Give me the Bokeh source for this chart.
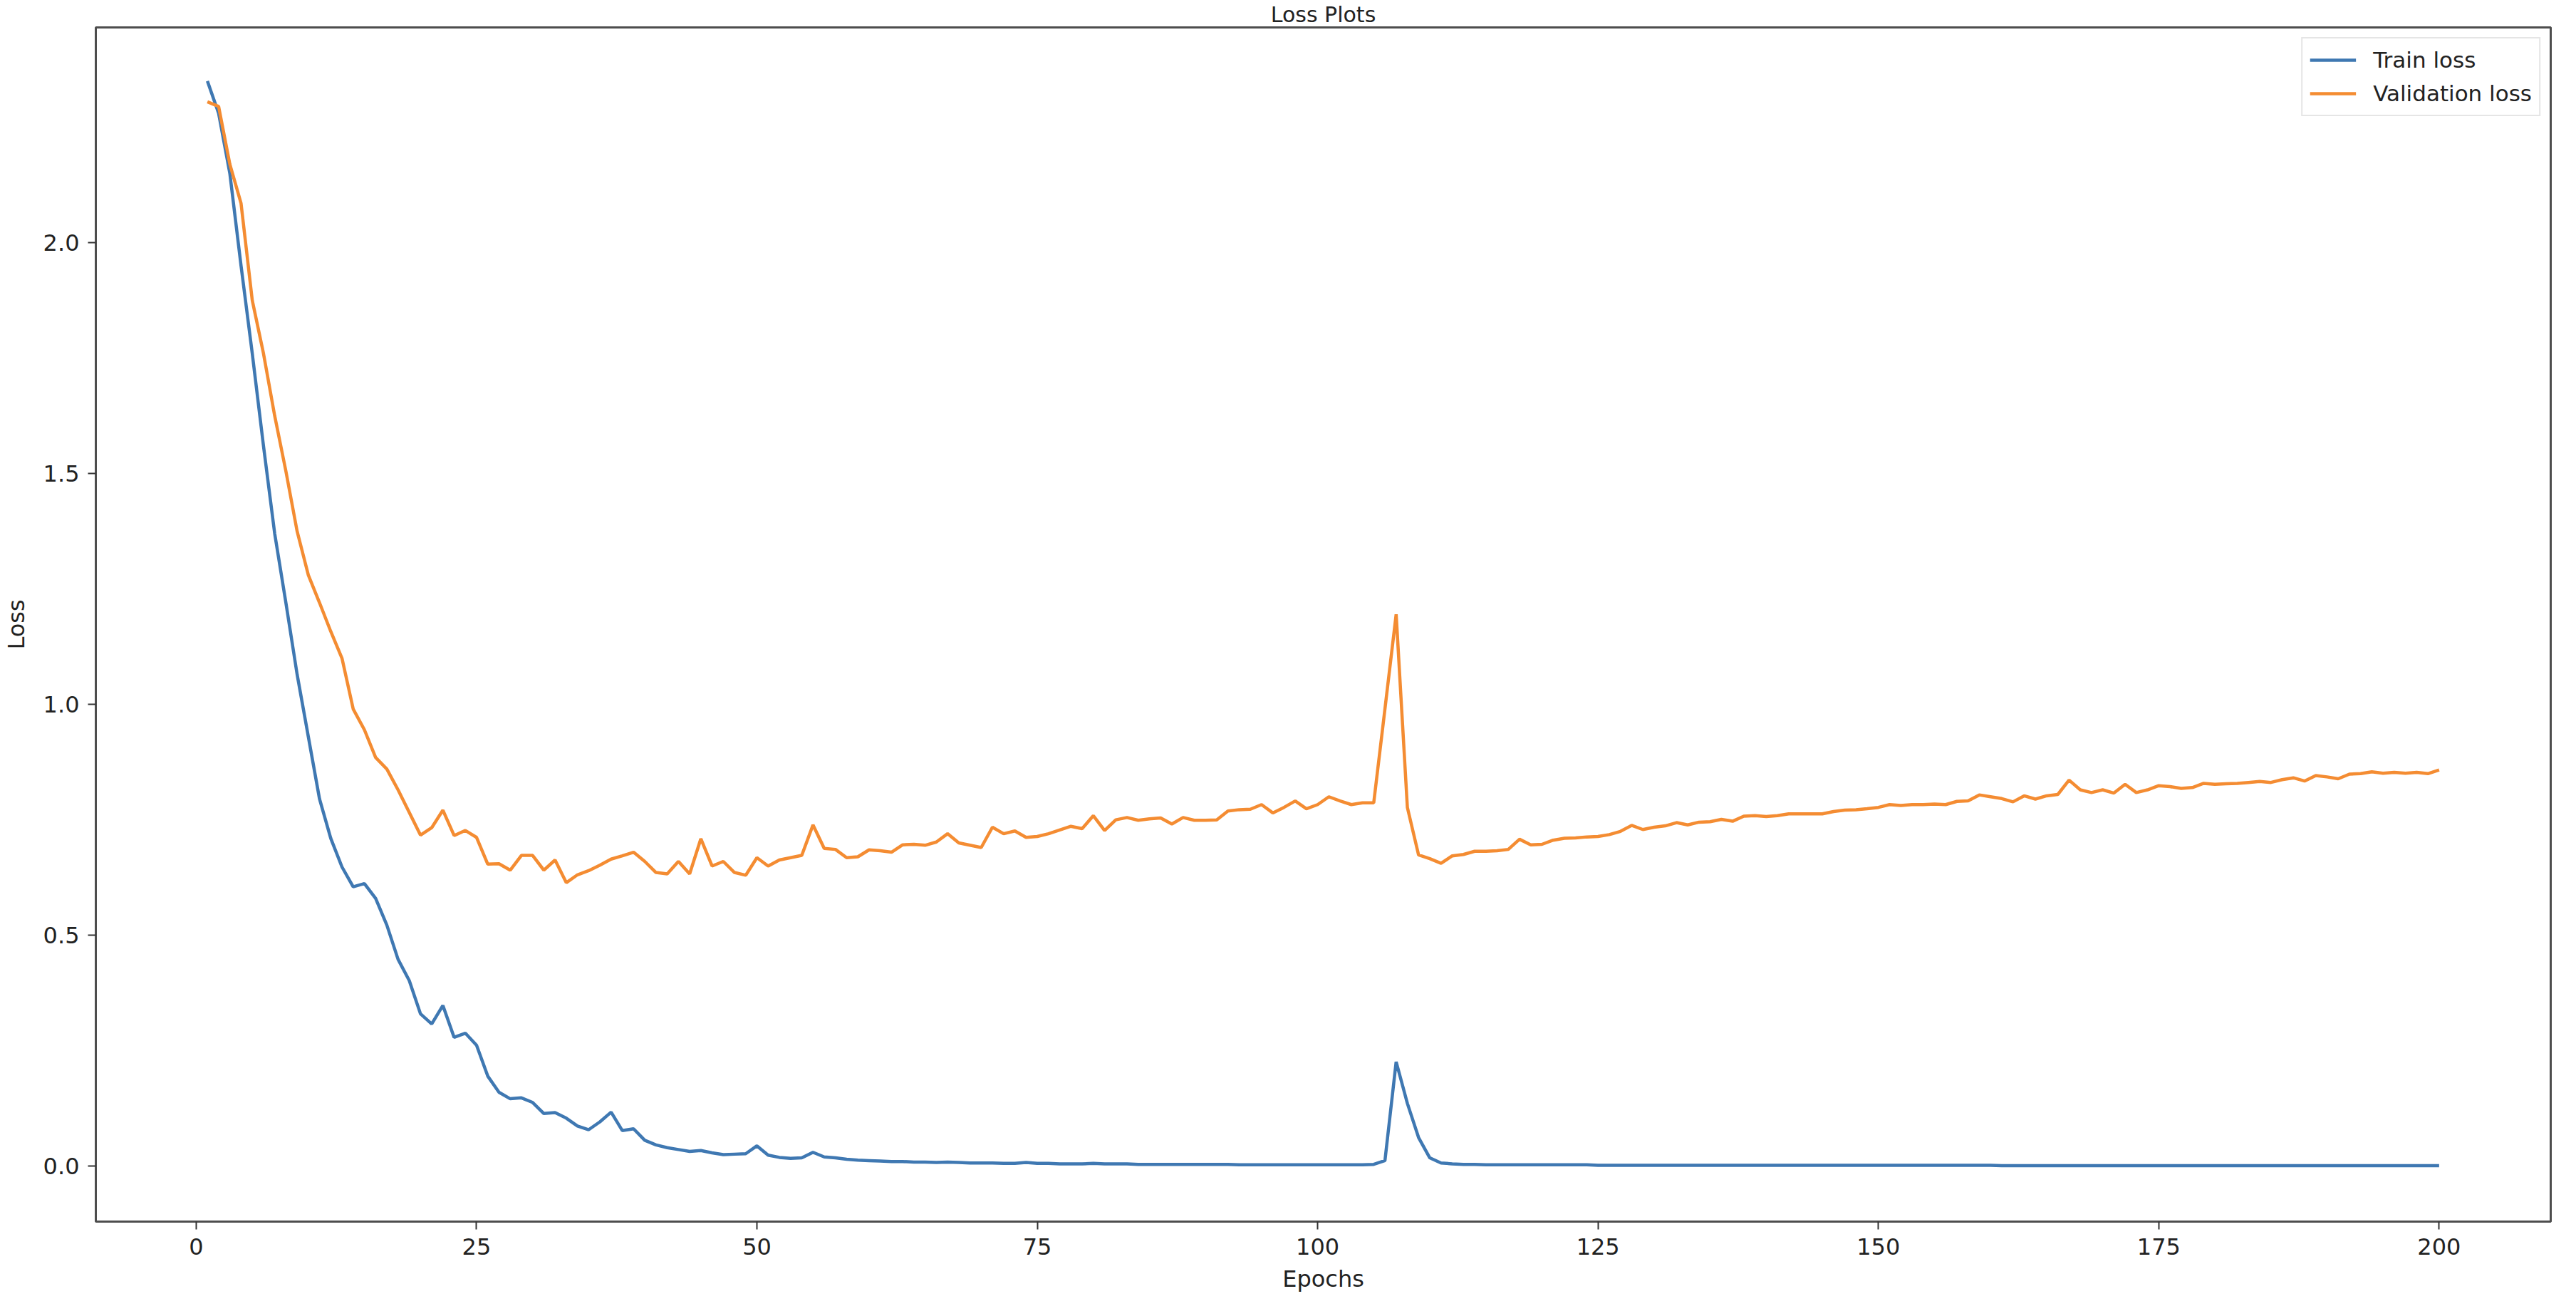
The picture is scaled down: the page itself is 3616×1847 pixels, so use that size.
from bokeh.plotting import figure
from bokeh.models import Range1d, FixedTicker, NumeralTickFormatter, Legend, LegendItem
from bokeh.embed import file_html
from bokeh.resources import INLINE

epochs = list(range(1, 201))

train_loss = [
    2.350, 2.280, 2.150, 1.950, 1.760, 1.560, 1.370, 1.220, 1.065, 0.930,
    0.795, 0.710, 0.648, 0.605, 0.612, 0.580, 0.522, 0.448, 0.402, 0.330,
    0.308, 0.348, 0.279, 0.288, 0.262, 0.195, 0.160, 0.146, 0.148, 0.138,
    0.114, 0.116, 0.104, 0.087, 0.079, 0.096, 0.117, 0.077, 0.081, 0.056,
    0.046, 0.040, 0.036, 0.032, 0.034, 0.029, 0.025, 0.026, 0.027, 0.044,
    0.024, 0.019, 0.017, 0.018, 0.030, 0.020, 0.018, 0.015, 0.013, 0.012,
    0.011, 0.010, 0.010, 0.009, 0.009, 0.008, 0.009, 0.008, 0.007, 0.007,
    0.007, 0.006, 0.006, 0.008, 0.006, 0.006, 0.005, 0.005, 0.005, 0.006,
    0.005, 0.005, 0.005, 0.004, 0.004, 0.004, 0.004, 0.004, 0.004, 0.004,
    0.004, 0.004, 0.003, 0.003, 0.003, 0.003, 0.003, 0.003, 0.003, 0.003,
    0.003, 0.003, 0.003, 0.003, 0.004, 0.012, 0.226, 0.136, 0.062, 0.018,
    0.007, 0.005, 0.004, 0.004, 0.003, 0.003, 0.003, 0.003, 0.003, 0.003,
    0.003, 0.003, 0.003, 0.003, 0.002, 0.002, 0.002, 0.002, 0.002, 0.002,
    0.002, 0.002, 0.002, 0.002, 0.002, 0.002, 0.002, 0.002, 0.002, 0.002,
    0.002, 0.002, 0.002, 0.002, 0.002, 0.002, 0.002, 0.002, 0.002, 0.002,
    0.002, 0.002, 0.002, 0.002, 0.002, 0.002, 0.002, 0.002, 0.002, 0.002,
    0.001, 0.001, 0.001, 0.001, 0.001, 0.001, 0.001, 0.001, 0.001, 0.001,
    0.001, 0.001, 0.001, 0.001, 0.001, 0.001, 0.001, 0.001, 0.001, 0.001,
    0.001, 0.001, 0.001, 0.001, 0.001, 0.001, 0.001, 0.001, 0.001, 0.001,
    0.001, 0.001, 0.001, 0.001, 0.001, 0.001, 0.001, 0.001, 0.001, 0.001,
]

val_loss = [
    2.305, 2.295, 2.170, 2.085, 1.875, 1.760, 1.625, 1.505, 1.375, 1.280,
    1.220, 1.158, 1.100, 0.990, 0.945, 0.885, 0.860, 0.815, 0.766, 0.717,
    0.733, 0.771, 0.716, 0.727, 0.712, 0.654, 0.655, 0.641, 0.673, 0.673,
    0.641, 0.663, 0.614, 0.631, 0.640, 0.652, 0.665, 0.672, 0.680, 0.660,
    0.636, 0.633, 0.660, 0.633, 0.709, 0.650, 0.660, 0.636, 0.630, 0.668,
    0.650, 0.663, 0.668, 0.673, 0.739, 0.688, 0.686, 0.668, 0.670, 0.685,
    0.683, 0.680, 0.696, 0.697, 0.695, 0.702, 0.720, 0.700, 0.695, 0.690,
    0.734, 0.720, 0.726, 0.712, 0.714, 0.720, 0.728, 0.736, 0.731, 0.759,
    0.727, 0.750, 0.755, 0.749, 0.752, 0.754, 0.741, 0.755, 0.749, 0.749,
    0.750, 0.769, 0.772, 0.773, 0.783, 0.765, 0.777, 0.791, 0.774, 0.783,
    0.800, 0.791, 0.783, 0.787, 0.787, 0.990, 1.195, 0.777, 0.674, 0.666,
    0.656, 0.672, 0.675, 0.682, 0.682, 0.683, 0.686, 0.708, 0.696, 0.697,
    0.706, 0.710, 0.711, 0.713, 0.714, 0.718, 0.725, 0.738, 0.729, 0.734,
    0.737, 0.744, 0.739, 0.745, 0.746, 0.751, 0.747, 0.758, 0.759, 0.757,
    0.759, 0.763, 0.763, 0.763, 0.763, 0.768, 0.771, 0.772, 0.774, 0.777,
    0.783, 0.781, 0.783, 0.783, 0.784, 0.783, 0.790, 0.791, 0.804, 0.800,
    0.796, 0.789, 0.802, 0.795, 0.802, 0.805, 0.836, 0.815, 0.809, 0.815,
    0.808, 0.827, 0.809, 0.815, 0.824, 0.822, 0.818, 0.820, 0.829, 0.827,
    0.828, 0.829, 0.831, 0.833, 0.831, 0.837, 0.841, 0.834, 0.846, 0.843,
    0.839, 0.849, 0.850, 0.854, 0.851, 0.853, 0.851, 0.853, 0.850, 0.858,
]

x_ticks = [0, 25, 50, 75, 100, 125, 150, 175, 200]
y_ticks = [0.0, 0.5, 1.0, 1.5, 2.0]
series_names = ["Train loss", "Validation loss"]
title_text = "Loss Plots"
x_label = "Epochs"
y_label = "Loss"

FONT = "DejaVu Sans"
TEXT_COLOR = "#222222"
BLUE = "#3f78b2"
ORANGE = "#f48c32"

p = figure(
    title=title_text,
    frame_width=3446, frame_height=1676,
    x_range=Range1d(-8.95, 209.95), y_range=Range1d(-0.12, 2.466),
    output_backend="svg", toolbar_location=None,
    min_border_left=132, min_border_right=22, min_border_top=38, min_border_bottom=117,
    background_fill_color="white", border_fill_color="white",
)
p.title.align = "center"
p.title.text_font = FONT
p.title.text_font_size = "30px"
p.title.text_font_style = "normal"
p.title.text_color = TEXT_COLOR
p.title.standoff = 1
p.title.offset = 0

p.grid.visible = False
p.outline_line_color = "#4d4d4d"
p.outline_line_width = 3

r1 = p.line(epochs, train_loss, line_color=BLUE, line_width=4.5)
r2 = p.line(epochs, val_loss, line_color=ORANGE, line_width=4.5)

for ax in (p.xaxis, p.yaxis):
    ax.axis_line_color = None
    ax.major_tick_in = 0
    ax.major_tick_out = 11
    ax.major_tick_line_color = "#333333"
    ax.major_tick_line_width = 2
    ax.minor_tick_line_color = None
    ax.major_label_text_font = FONT
    ax.major_label_text_font_size = "32px"
    ax.major_label_text_color = TEXT_COLOR
    ax.axis_label_text_font = FONT
    ax.axis_label_text_font_size = "32px"
    ax.axis_label_text_font_style = "normal"
    ax.axis_label_text_color = TEXT_COLOR

p.xaxis.ticker = FixedTicker(ticks=x_ticks)
p.yaxis.ticker = FixedTicker(ticks=y_ticks)
p.yaxis.formatter = NumeralTickFormatter(format="0.0")
p.xaxis.major_label_standoff = 12
p.yaxis.major_label_standoff = 12
p.xaxis.axis_label = x_label
p.yaxis.axis_label = y_label
p.xaxis.axis_label_standoff = 12
p.yaxis.axis_label_standoff = 16

legend = Legend(
    items=[LegendItem(label=series_names[0], renderers=[r1]),
           LegendItem(label=series_names[1], renderers=[r2])],
    location="top_right", margin=14, padding=10, spacing=7,
    glyph_width=65, glyph_height=40, label_height=40, label_standoff=24,
    label_text_font=FONT, label_text_font_size="31px", label_text_color=TEXT_COLOR,
    border_line_color="#cccccc", border_line_width=2,
    background_fill_color="white", background_fill_alpha=0.8,
)
p.add_layout(legend)

open("out.html", "w").write(file_html(p, INLINE))
